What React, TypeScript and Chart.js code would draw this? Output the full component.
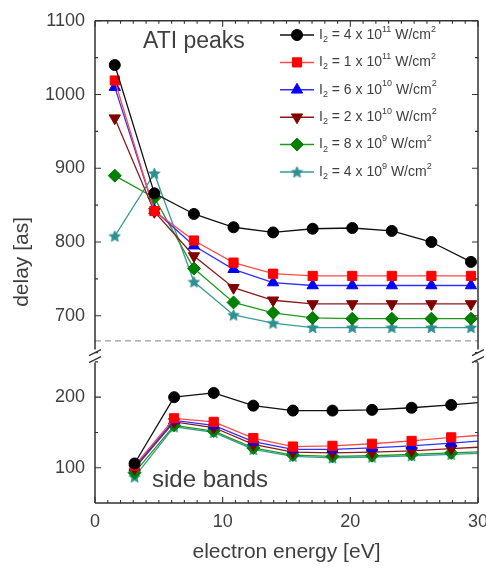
import React, { useEffect, useRef } from 'react';
import { Chart, registerables } from 'chart.js';

Chart.register(...registerables);

// ---------- data ----------
const atiEnergy = [1.55, 4.65, 7.75, 10.85, 13.95, 17.05, 20.15, 23.25, 26.35, 29.45];
const sbEnergy = [3.1, 6.2, 9.3, 12.4, 15.5, 18.6, 21.7, 24.8, 27.9, 31.0];

const ati4e11 = [1040, 866, 838, 820, 813, 818, 819, 815, 800, 773];
const ati1e11 = [1019, 842, 802, 772, 757, 754, 754, 754, 754, 754];
const ati6e10 = [1010, 843, 795, 763, 745, 741, 741, 741, 741, 741];
const ati2e10 = [968, 841, 781, 738, 721, 716, 716, 716, 716, 716];
const ati8e9 = [890, 860, 764, 718, 704, 697, 696, 696, 696, 696];
const ati4e9 = [808, 893, 746, 701, 690, 684, 684, 684, 684, 684];

const sb4e11 = [106, 200, 206, 188, 181, 181, 182, 185, 189, 194];
const sb1e11 = [103, 170, 165, 142, 130, 131, 134, 138, 143, 147];
const sb6e10 = [101, 167, 160, 137, 126, 126, 128, 131, 135, 139];
const sb2e10 = [99, 165, 157, 133, 122, 121, 122, 124, 127, 130];
const sb8e9 = [93, 160, 152, 128, 118, 116, 117, 119, 121, 123];
const sb4e9 = [87, 158, 150, 126, 116, 114, 115, 117, 119, 121];

const intensityCoef = ['4', '1', '6', '2', '8', '4'];
const intensityExp = ['11', '11', '10', '10', '9', '9'];

const atiSeries = [ati4e11, ati1e11, ati6e10, ati2e10, ati8e9, ati4e9];
const sbSeries = [sb4e11, sb1e11, sb6e10, sb2e10, sb8e9, sb4e9];

const xTickValues = [0, 10, 20, 30];
const yTopTickValues = [700, 800, 900, 1000, 1100];
const yBottomTickValues = [100, 200];
const separatorDelay = 666;

// ---------- styles ----------
const markerColors = ['#000000', '#ff0000', '#0000ff', '#800000', '#008000', '#2e8f8f'];
const lineColors = ['#111111', '#ff4a4a', '#3030ff', '#8a1a1a', '#1f9a1f', '#3a9a9a'];
const markerStyles = ['circle', 'rect', 'triangle', 'triangle', 'rectRot', 'star'];
const markerRotations = [0, 0, 0, 180, 0, 0];
const markerRadii = [5.5, 6.5, 6.5, 6.5, 6.5, 6.5];
const FONT = "'Liberation Sans', Arial, sans-serif";
const TEXT = '#3f3f3f';

function makeStar(size: number, fill: string): HTMLCanvasElement {
  const c = document.createElement('canvas');
  c.width = size;
  c.height = size;
  const g = c.getContext('2d')!;
  const cx = size / 2;
  const cy = size / 2 + 0.5;
  const R = size / 2 - 0.5;
  const r = R * 0.45;
  g.beginPath();
  for (let i = 0; i < 10; i++) {
    const ang = -Math.PI / 2 + (i * Math.PI) / 5;
    const rad = i % 2 === 0 ? R : r;
    const px = cx + Math.cos(ang) * rad;
    const py = cy + Math.sin(ang) * rad;
    if (i === 0) g.moveTo(px, py);
    else g.lineTo(px, py);
  }
  g.closePath();
  g.fillStyle = fill;
  g.fill();
  g.strokeStyle = fill;
  g.lineWidth = 0.8;
  g.stroke();
  return c;
}

function drawMarker(ctx: CanvasRenderingContext2D, i: number, x: number, y: number, star: HTMLCanvasElement) {
  const style = markerStyles[i];
  const r = markerRadii[i];
  ctx.save();
  ctx.fillStyle = markerColors[i];
  ctx.strokeStyle = markerColors[i];
  ctx.lineWidth = 1;
  ctx.beginPath();
  if (style === 'circle') {
    ctx.arc(x, y, r, 0, Math.PI * 2);
  } else if (style === 'rect') {
    const s = Math.SQRT1_2 * r;
    ctx.rect(x - s, y - s, 2 * s, 2 * s);
  } else if (style === 'triangle') {
    let rad = (markerRotations[i] * Math.PI) / 180;
    ctx.moveTo(x + Math.sin(rad) * r, y - Math.cos(rad) * r);
    rad += (2 * Math.PI) / 3;
    ctx.lineTo(x + Math.sin(rad) * r, y - Math.cos(rad) * r);
    rad += (2 * Math.PI) / 3;
    ctx.lineTo(x + Math.sin(rad) * r, y - Math.cos(rad) * r);
    ctx.closePath();
  } else if (style === 'rectRot') {
    ctx.moveTo(x, y - r);
    ctx.lineTo(x + r, y);
    ctx.lineTo(x, y + r);
    ctx.lineTo(x - r, y);
    ctx.closePath();
  } else {
    ctx.drawImage(star, x - star.width / 2, y - star.height / 2);
    ctx.restore();
    return;
  }
  ctx.fill();
  ctx.stroke();
  ctx.restore();
}

function drawRich(ctx: CanvasRenderingContext2D, parts: { t: string; k?: 'sub' | 'sup' }[], x: number, y: number, size: number) {
  let cx = x;
  for (const p of parts) {
    const s = p.k ? Math.round(size * 0.62) : size;
    ctx.font = `${s}px ${FONT}`;
    const dy = p.k === 'sub' ? size * 0.32 : p.k === 'sup' ? -size * 0.42 : 0;
    ctx.fillText(p.t, cx, y + dy);
    cx += ctx.measureText(p.t).width;
  }
}

export default function App() {
  const ref = useRef<HTMLCanvasElement | null>(null);

  useEffect(() => {
    document.body.style.margin = '0';
    const canvas = ref.current!;
    const star = makeStar(13, markerColors[5]);

    const pointStyleFor = (i: number): any => (markerStyles[i] === 'star' ? star : markerStyles[i]);

    const datasets: any[] = [];
    for (let i = 0; i < 6; i++) {
      const label = `I₂ = ${intensityCoef[i]} x 10^${intensityExp[i]} W/cm²`;
      const common = {
        label,
        borderColor: lineColors[i],
        backgroundColor: markerColors[i],
        pointBackgroundColor: markerColors[i],
        pointBorderColor: markerColors[i],
        pointBorderWidth: 1,
        pointStyle: pointStyleFor(i),
        pointRotation: markerRotations[i],
        pointRadius: markerRadii[i],
        borderWidth: 1.3,
        tension: 0,
        fill: false,
        xAxisID: 'x',
      };
      datasets.push({
        ...common,
        data: atiEnergy.map((e, j) => ({ x: e, y: atiSeries[i][j] })),
        yAxisID: 'yTop',
      });
      datasets.push({
        ...common,
        data: sbEnergy.map((e, j) => ({ x: e, y: sbSeries[i][j] })),
        yAxisID: 'yBottom',
      });
    }

    const decor = {
      id: 'decor',
      afterDraw(chart: any) {
        const { ctx, chartArea: a, scales } = chart;
        const sx = scales.x;
        const yt = scales.yTop;
        const yb = scales.yBottom;
        const breakY = yt.bottom;
        ctx.save();

        // dashed separator
        ctx.strokeStyle = '#9a9a9a';
        ctx.lineWidth = 1.2;
        ctx.setLineDash([6, 4]);
        const dy = yt.getPixelForValue(separatorDelay);
        ctx.beginPath();
        ctx.moveTo(a.left, dy);
        ctx.lineTo(a.right, dy);
        ctx.stroke();
        ctx.setLineDash([]);

        // frame
        ctx.strokeStyle = '#333';
        ctx.lineWidth = 1.5;
        ctx.beginPath();
        ctx.moveTo(a.left, a.top);
        ctx.lineTo(a.right, a.top);
        ctx.moveTo(a.left, a.bottom);
        ctx.lineTo(a.right, a.bottom);
        for (const X of [a.left, a.right]) {
          ctx.moveTo(X, a.top);
          ctx.lineTo(X, breakY - 6);
          ctx.moveTo(X, breakY + 7);
          ctx.lineTo(X, a.bottom);
        }
        ctx.stroke();

        // break marks
        ctx.lineWidth = 1.3;
        ctx.beginPath();
        for (const X of [a.left, a.right]) {
          for (const Y of [breakY - 3, breakY + 4]) {
            ctx.moveTo(X - 6, Y + 3);
            ctx.lineTo(X + 6, Y - 3);
          }
        }
        ctx.stroke();

        // ticks
        ctx.lineWidth = 1.1;
        ctx.beginPath();
        for (let v = Math.ceil(sx.min); v <= sx.max; v += 1) {
          const px = sx.getPixelForValue(v);
          const len = v % 10 === 0 ? 6 : 3;
          ctx.moveTo(px, a.bottom);
          ctx.lineTo(px, a.bottom - len);
          ctx.moveTo(px, a.top);
          ctx.lineTo(px, a.top + len);
        }
        const yTicks = (sc: any, from: number) => {
          for (let v = from; v <= sc.max; v += 50) {
            if (v <= sc.min) continue;
            const py = sc.getPixelForValue(v);
            const len = v % 100 === 0 ? 6 : 3;
            ctx.moveTo(a.left, py);
            ctx.lineTo(a.left + len, py);
            ctx.moveTo(a.right, py);
            ctx.lineTo(a.right - len, py);
          }
        };
        yTicks(yt, 650);
        yTicks(yb, 100);
        ctx.stroke();

        // annotations
        ctx.fillStyle = TEXT;
        ctx.textBaseline = 'alphabetic';
        ctx.textAlign = 'left';
        ctx.font = `23px ${FONT}`;
        ctx.fillText('ATI peaks', 143, 48);
        ctx.font = `24px ${FONT}`;
        ctx.fillText('side bands', 152, 487);

        // y title
        ctx.save();
        ctx.translate(22, (a.top + a.bottom) / 2);
        ctx.rotate(-Math.PI / 2);
        ctx.textAlign = 'center';
        ctx.textBaseline = 'middle';
        ctx.font = `21px ${FONT}`;
        ctx.fillText('delay [as]', 0, 0);
        ctx.restore();

        // legend
        const lx0 = 280;
        const lx1 = 314;
        const ly0 = 35;
        const ldy = 27.4;
        for (let i = 0; i < 6; i++) {
          const y = ly0 + i * ldy;
          ctx.strokeStyle = lineColors[i];
          ctx.lineWidth = 1.5;
          ctx.beginPath();
          ctx.moveTo(lx0, y);
          ctx.lineTo(lx1, y);
          ctx.stroke();
          drawMarker(ctx, i, (lx0 + lx1) / 2, y, star);
          ctx.fillStyle = TEXT;
          ctx.textBaseline = 'middle';
          ctx.textAlign = 'left';
          drawRich(
            ctx,
            [
              { t: 'I' },
              { t: '2', k: 'sub' },
              { t: ` = ${intensityCoef[i]} x 10` },
              { t: intensityExp[i], k: 'sup' },
              { t: ' W/cm' },
              { t: '2', k: 'sup' },
            ],
            319,
            y,
            14
          );
        }
        ctx.restore();
      },
    };

    const tickFont = { family: FONT, size: 18 };
    const plain = (v: any) => String(v);

    const chart = new Chart(canvas, {
      type: 'line',
      data: { datasets },
      options: {
        responsive: false,
        animation: false,
        layout: { padding: { top: 19, right: 8, bottom: 0, left: 0 } },
        plugins: { legend: { display: false }, tooltip: { enabled: false } },
        scales: {
          x: {
            type: 'linear',
            min: 0,
            max: 30,
            afterBuildTicks: (s: any) => {
              s.ticks = xTickValues.map((v) => ({ value: v }));
            },
            ticks: { padding: 8, font: tickFont, color: TEXT, maxRotation: 0, autoSkip: false, callback: plain },
            grid: { display: false, drawTicks: false },
            border: { display: false },
            title: {
              display: true,
              text: 'electron energy [eV]',
              color: TEXT,
              font: { family: FONT, size: 21 },
              padding: { top: 4, bottom: 6 },
            },
            afterFit: (s: any) => {
              s.height = 68;
              s.paddingLeft = 0;
              s.paddingRight = 0;
            },
          },
          yBottom: {
            type: 'linear',
            position: 'left',
            stack: 'delay',
            stackWeight: 148,
            min: 50,
            max: 259,
            afterBuildTicks: (s: any) => {
              s.ticks = yBottomTickValues.map((v) => ({ value: v }));
            },
            ticks: { padding: 10, font: tickFont, color: TEXT, autoSkip: false, callback: plain },
            grid: { display: false, drawTicks: false },
            border: { display: false },
            afterFit: (s: any) => {
              s.width = 95;
            },
          },
          yTop: {
            type: 'linear',
            position: 'left',
            stack: 'delay',
            stackWeight: 336,
            min: 646,
            max: 1100,
            afterBuildTicks: (s: any) => {
              s.ticks = yTopTickValues.map((v) => ({ value: v }));
            },
            ticks: { padding: 10, font: tickFont, color: TEXT, autoSkip: false, callback: plain },
            grid: { display: false, drawTicks: false },
            border: { display: false },
            afterFit: (s: any) => {
              s.width = 95;
            },
          },
        },
      } as any,
      plugins: [decor],
    });

    return () => chart.destroy();
  }, []);

  return (
    <div style={{ width: 486, height: 571, background: '#fff' }}>
      <canvas ref={ref} width={486} height={571} style={{ display: 'block' }} />
    </div>
  );
}
